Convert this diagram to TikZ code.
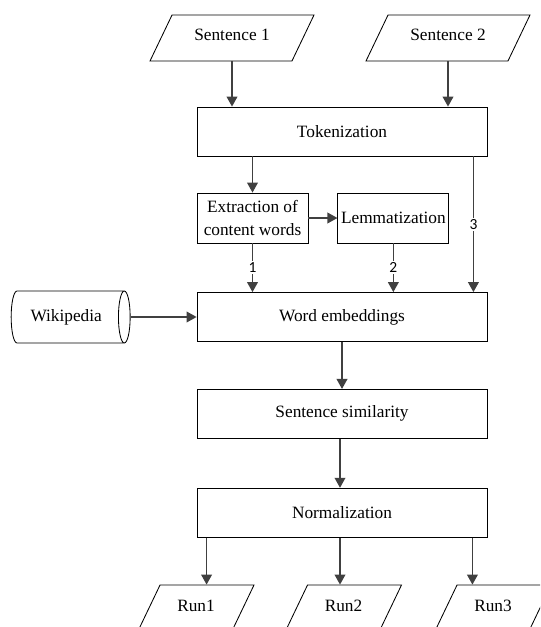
\documentclass[tikz,border=0pt]{standalone}
\usepackage{fontspec}
\setmainfont{Liberation Serif}
\newfontfamily\numfont{Carlito}
\usepackage{tikz}
\usetikzlibrary{shapes.geometric, arrows.meta, positioning, calc}
\definecolor{mydark}{RGB}{64,64,64}
\tikzset{
  block/.style={rectangle, draw=black, fill=white,
    minimum width=7.25cm, minimum height=1.225cm, inner sep=2pt,
    line width=0.6pt},
  smallblock/.style={rectangle, draw=black, fill=white, align=center,
    minimum width=2.775cm, minimum height=1.25cm, inner sep=2pt,
    line width=0.6pt},
  iobox/.style={trapezium, trapezium left angle=64.4, trapezium right angle=115.6,
    trapezium stretches body=true, draw=black, fill=white,
    text height=0.65cm, text depth=0.5cm, inner ysep=0pt, inner xsep=2pt,
    minimum width=4.1cm, line width=0.6pt},
  runbox/.style={iobox, minimum width=2.9cm},
  dbase/.style={cylinder, shape aspect=0.55, draw=black, fill=white,
    minimum height=2.975cm, minimum width=1.3cm, inner sep=2pt, line width=0.6pt},
  arrow/.style={-{Triangle[length=0.25cm, width=0.27cm]}, line width=0.9pt, color=mydark},
  numlabel/.style={fill=white, inner sep=1pt, font=\numfont\fontsize{11}{13}\selectfont, text=black}
}

\begin{document}
\begin{tikzpicture}[font=\fontsize{12.3}{15.8}\selectfont]
  \useasboundingbox (0,0) rectangle (13.5,-15.675);
  \clip (0,0) rectangle (13.5,-15.675);

  % inputs
  \node[iobox] (sent1) at (5.8,-0.95) {Sentence 1};
  \node[iobox] (sent2) at (11.2,-0.95) {Sentence 2};

  % processing chain
  \node[block] (tok) at (8.55,-3.2875) {Tokenization};
  \node[smallblock] (ext) at (6.3125,-5.45) {Extraction of\\content words};
  \node[smallblock, right=0.725cm of ext] (lem) {Lemmatization};
  \node[block] (emb) at (8.55,-7.925) {Word embeddings};
  \node[block, below=1.175cm of emb] (sim) {Sentence similarity};
  \node[block, below=1.225cm of sim] (norm) {Normalization};
  \node[dbase, left=1.65cm of emb] (wiki) {Wikipedia};

  % outputs
  \node[runbox] (run1) at (4.9,-15.2) {Run1};
  \node[runbox] (run2) at (8.5875,-15.2) {Run2};
  \node[runbox] (run3) at (12.325,-15.2) {Run3};

  \draw[arrow] (sent1.south) -- (sent1.south |- tok.north);
  \draw[arrow] (sent2.south) -- (sent2.south |- tok.north);
  \draw[arrow] (ext.north |- tok.south) -- (ext.north);
  \draw[arrow] (ext.east) -- (lem.west);
  \draw[arrow] (ext.south) -- node[numlabel] {1} (ext.south |- emb.north);
  \draw[arrow] (lem.south) -- node[numlabel] {2} (lem.south |- emb.north);
  \draw[arrow] ([xshift=-0.35cm]tok.south east) coordinate (t3)
    -- node[numlabel] {3} (t3 |- emb.north);
  \draw[arrow] (wiki.east) -- (emb.west);
  \draw[arrow] (emb.south) -- (sim.north);
  \draw[arrow] ([xshift=-0.05cm]sim.south) -- ([xshift=-0.05cm]norm.north);

  \draw[arrow] ([xshift=0.25cm]norm.south west) coordinate (o1) -- (o1 |- run1.north);
  \draw[arrow] ([xshift=-0.05cm]norm.south) coordinate (o2) -- (o2 |- run2.north);
  \draw[arrow] ([xshift=-0.375cm]norm.south east) coordinate (o3) -- (o3 |- run3.north);
\end{tikzpicture}
\end{document}
